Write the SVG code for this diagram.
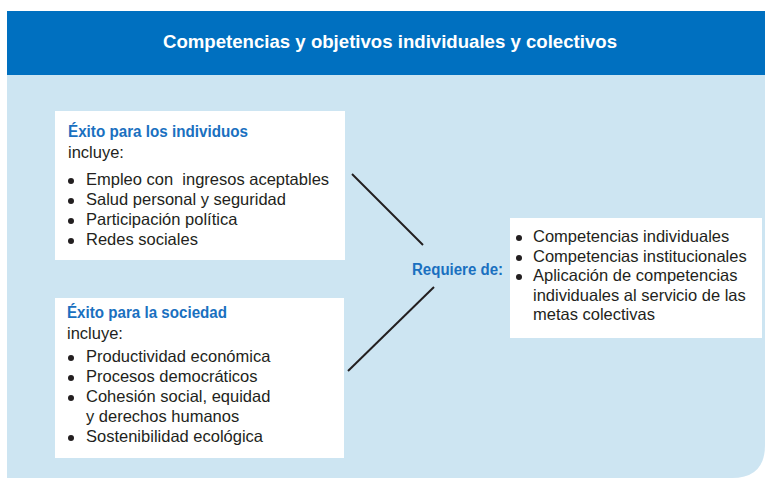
<svg xmlns="http://www.w3.org/2000/svg" width="765" height="479" viewBox="0 0 765 479">
<style>
.t{font-family:"Liberation Sans",Arial,sans-serif;font-size:16.5px;fill:#231f20}
.h{font-family:"Liberation Sans",Arial,sans-serif;font-weight:bold;fill:#1a70c0}
.box{fill:#ffffff}
.dot{fill:#231f20}
.ln{stroke:#231f20;stroke-width:2;fill:none}
</style>
<rect x="0" y="0" width="765" height="479" fill="#ffffff"/>
<path d="M7,75 H765 V445 Q765,478 732,478 H7 Z" fill="#cde5f2"/>
<rect x="7" y="11" width="758" height="64" fill="#0070c0"/>
<text x="390" y="48" text-anchor="middle" textLength="454" lengthAdjust="spacingAndGlyphs" font-family="Liberation Sans, Arial, sans-serif" font-weight="bold" font-size="19" fill="#ffffff">Competencias y objetivos individuales y colectivos</text>
<g id="connectors">
<line class="ln" x1="352" y1="174" x2="423" y2="245"/>
<line class="ln" x1="434" y1="287" x2="348" y2="371"/>
</g>
<g id="individuos">
<rect class="box" x="55" y="111" width="290" height="149"/>
<text class="h" x="68" y="137" font-size="16.5" textLength="180" lengthAdjust="spacingAndGlyphs">Éxito para los individuos</text>
<text class="t" x="68" y="158">incluye:</text>
<circle class="dot" cx="71" cy="181" r="3"/>
<circle class="dot" cx="71" cy="201" r="3"/>
<circle class="dot" cx="71" cy="221" r="3"/>
<circle class="dot" cx="71" cy="241" r="3"/>
<text class="t" x="86" y="185" xml:space="preserve">Empleo con  ingresos aceptables</text>
<text class="t" x="86" y="205">Salud personal y seguridad</text>
<text class="t" x="86" y="225">Participación política</text>
<text class="t" x="86" y="245">Redes sociales</text>
</g>
<g id="sociedad">
<rect class="box" x="55" y="298" width="289" height="160"/>
<text class="h" x="67" y="318" font-size="16.5" textLength="160" lengthAdjust="spacingAndGlyphs">Éxito para la sociedad</text>
<text class="t" x="67" y="339">incluye:</text>
<circle class="dot" cx="71" cy="358" r="3"/>
<circle class="dot" cx="71" cy="378" r="3"/>
<circle class="dot" cx="71" cy="398" r="3"/>
<circle class="dot" cx="71" cy="438" r="3"/>
<text class="t" x="86" y="362">Productividad económica</text>
<text class="t" x="86" y="382">Procesos democráticos</text>
<text class="t" x="86" y="402">Cohesión social, equidad</text>
<text class="t" x="86" y="422">y derechos humanos</text>
<text class="t" x="86" y="442">Sostenibilidad ecológica</text>
</g>
<g id="requiere">
<text class="h" x="412" y="275" font-size="16" textLength="91" lengthAdjust="spacingAndGlyphs">Requiere de:</text>
</g>
<g id="competencias">
<rect class="box" x="510" y="218" width="252" height="120"/>
<circle class="dot" cx="519" cy="238" r="3"/>
<circle class="dot" cx="519" cy="258" r="3"/>
<circle class="dot" cx="519" cy="277" r="3"/>
<text class="t" x="533" y="242">Competencias individuales</text>
<text class="t" x="533" y="262">Competencias institucionales</text>
<text class="t" x="533" y="281">Aplicación de competencias</text>
<text class="t" x="533" y="301">individuales al servicio de las</text>
<text class="t" x="533" y="320">metas colectivas</text>
</g>
</svg>
